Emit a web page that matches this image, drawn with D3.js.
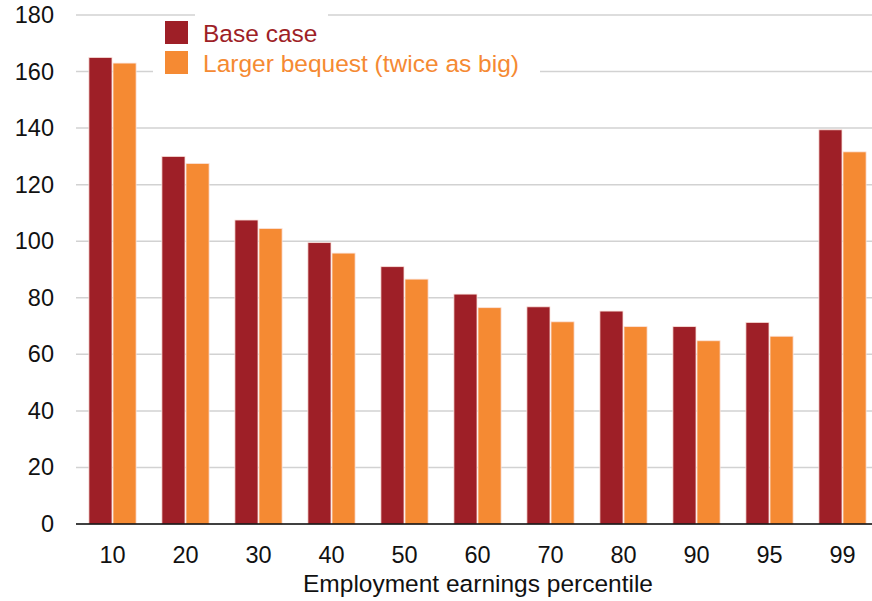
<!DOCTYPE html>
<html>
<head>
<meta charset="utf-8">
<script src="https://cdn.jsdelivr.net/npm/d3@7"></script>
<style>
  html, body { margin: 0; padding: 0; background: #fff; }
  svg { display: block; font-family: "Liberation Sans", Arial, Helvetica, sans-serif; }
</style>
</head>
<body>
<svg id="chart" width="872" height="601"></svg>
<script>
// Percentile groups along the x axis
const percentiles = ["10", "20", "30", "40", "50", "60", "70", "80", "90", "95", "99"];
// Series values
const baseCase = [165, 130, 107.5, 99.5, 91, 81.3, 76.8, 75.3, 69.8, 71.3, 139.4];
const largerBequest = [163, 127.5, 104.5, 95.8, 86.6, 76.5, 71.5, 69.8, 64.8, 66.4, 131.6];
// Series names and y-axis ticks
const seriesNames = ["Base case", "Larger bequest (twice as big)"];
const yTicks = [0, 20, 40, 60, 80, 100, 120, 140, 160, 180];

const colors = ["#9E1F27", "#F58A33"];
const series = [baseCase, largerBequest];

const svg = d3.select("#chart");
const plotLeft = 76, plotRight = 879, plotTop = 15, plotBottom = 524;

const x = d3.scaleBand().domain(percentiles).range([plotLeft, plotRight])
  .paddingInner(0.34).paddingOuter(0.17);
const xInner = d3.scaleBand().domain(d3.range(series.length)).range([0, x.bandwidth()]);
const y = d3.scaleLinear().domain([0, 180]).range([plotBottom, plotTop]);

// Horizontal gridlines
svg.append("g").selectAll("line").data(yTicks.filter(d => d > 0)).join("line")
  .attr("x1", plotLeft).attr("x2", 872)
  .attr("y1", d => y(d)).attr("y2", d => y(d))
  .attr("stroke", "#d2d2d2").attr("stroke-width", 1.5);

// Bars
const groups = svg.append("g").selectAll("g").data(percentiles).join("g")
  .attr("transform", d => `translate(${x(d)},0)`);
groups.selectAll("rect")
  .data((d, i) => series.map((s, k) => ({ k, v: s[i] })))
  .join("rect")
  .attr("x", d => xInner(d.k) + 0.5)
  .attr("width", xInner.bandwidth() - 1)
  .attr("y", d => y(d.v))
  .attr("height", d => y(0) - y(d.v))
  .attr("fill", d => colors[d.k])
  .attr("stroke", "#fbe3dc").attr("stroke-width", 0.8);

// Baseline
svg.append("line").attr("x1", plotLeft).attr("x2", 872)
  .attr("y1", y(0)).attr("y2", y(0))
  .attr("stroke", "#000").attr("stroke-width", 1.5);

// Y axis labels
const yAxis = svg.append("g").attr("transform", `translate(54,0)`)
  .call(d3.axisLeft(y).tickValues(yTicks).tickSize(0).tickPadding(0));
yAxis.select(".domain").remove();
yAxis.selectAll("text").attr("font-size", 23.5).attr("fill", "#111")
  .attr("font-family", "'Liberation Sans', Arial, sans-serif");

// X axis labels
const xAxis = svg.append("g").attr("transform", `translate(0,${plotBottom})`)
  .call(d3.axisBottom(x).tickSize(0).tickPadding(22));
xAxis.select(".domain").remove();
xAxis.selectAll("text").attr("font-size", 23.5).attr("fill", "#111")
  .attr("font-family", "'Liberation Sans', Arial, sans-serif");

svg.append("text").attr("x", 478).attr("y", 592).attr("text-anchor", "middle")
  .attr("font-size", 24.5).attr("fill", "#111")
  .text("Employment earnings percentile");

// Legend with white backing over the gridlines
svg.append("rect").attr("x", 195).attr("y", 8).attr("width", 133).attr("height", 40).attr("fill", "#fff");
svg.append("rect").attr("x", 153).attr("y", 48).attr("width", 387).attr("height", 32).attr("fill", "#fff");
const legend = svg.append("g").selectAll("g").data(seriesNames).join("g")
  .attr("transform", (d, i) => `translate(165,${21 + i * 30})`);
legend.append("rect").attr("width", 23).attr("height", 23).attr("fill", (d, i) => colors[i]);
legend.append("text").attr("x", 38).attr("y", 21).attr("font-size", 24.5)
  .attr("fill", (d, i) => colors[i]).text(d => d);
</script>
</body>
</html>
